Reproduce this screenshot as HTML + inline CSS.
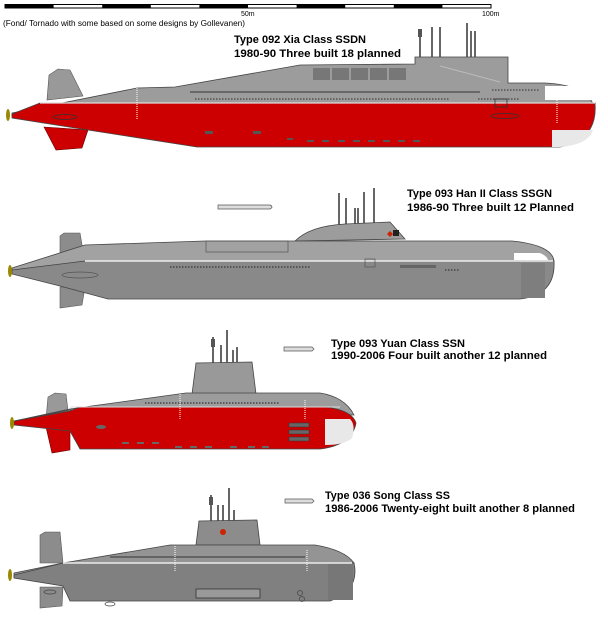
<!DOCTYPE html>
<html><head><meta charset="utf-8"><style>
html,body{margin:0;padding:0;background:#fff;}
svg{display:block;}
text{font-family:"Liberation Sans",sans-serif;fill:#000;}
.t{font-size:11px;font-weight:bold;}
</style></head><body>
<svg width="608" height="631" viewBox="0 0 608 631" xmlns="http://www.w3.org/2000/svg">
<!-- scale bar -->
<rect x="5" y="4.5" width="486" height="3.5" fill="#fff" stroke="#000" stroke-width="1"/>
<g fill="#000">
<rect x="5" y="4.5" width="48.6" height="3.5"/><rect x="102.2" y="4.5" width="48.6" height="3.5"/>
<rect x="199.4" y="4.5" width="48.6" height="3.5"/><rect x="296.6" y="4.5" width="48.6" height="3.5"/>
<rect x="393.8" y="4.5" width="48.6" height="3.5"/>
</g>
<text x="241" y="16" font-size="7">50m</text>
<text x="482" y="16" font-size="7">100m</text>
<text x="3" y="26" font-size="8" textLength="242" lengthAdjust="spacingAndGlyphs">(Fond/ Tornado with some based on some designs by Gollevanen)</text>

<!-- ===== SUB 1 XIA ===== -->
<text class="t" x="234" y="43" textLength="132" lengthAdjust="spacingAndGlyphs">Type 092 Xia Class SSDN</text>
<text class="t" x="234" y="57" textLength="167" lengthAdjust="spacingAndGlyphs">1980-90 Three built 18 planned</text>
<g stroke="#333" stroke-width="1.5">
<line x1="420" y1="30" x2="420" y2="57"/><line x1="432" y1="27" x2="432" y2="57"/><line x1="440" y1="27" x2="440" y2="57"/>
<line x1="467" y1="23" x2="467" y2="57"/><line x1="471" y1="31" x2="471" y2="57"/><line x1="475" y1="31" x2="475" y2="57"/>
</g>
<rect x="418" y="29" width="4" height="8" fill="#555"/>
<!-- fins -->
<path d="M47,100 L49,75 L58,69 L70,70 L83,96 Z" fill="#999" stroke="#555" stroke-width="0.6"/>
<path d="M44,127 L88,130 L82,148 L56,150 Z" fill="#cc0000" stroke="#600" stroke-width="0.6"/>
<!-- hull grey upper -->
<path d="M12,113 L137,88 L175,87 L300,65 L415,64 L415,57 L508,57 L508,83 L545,83 Q590,85 595,110 L595,103 L12,116 Z" fill="#9c9c9c" stroke="#444" stroke-width="0.8"/>
<!-- red lower -->
<path d="M12,114 L40,103 L595,103 Q598,140 560,147 L197,147 L88,130 L12,118 Z" fill="#cc0000" stroke="#444" stroke-width="0.8"/>
<line x1="40" y1="103" x2="595" y2="103" stroke="#ddd" stroke-width="1.2"/>
<path d="M545,86 L575,86 Q590,92 593,100 L545,100 Z" fill="#fff"/>
<path d="M552,130 L593,130 Q588,145 560,147 L552,147 Z" fill="#e8e8e8"/>
<line x1="190" y1="92" x2="480" y2="92" stroke="#333" stroke-width="1"/>
<line x1="440" y1="66" x2="500" y2="82" stroke="#bbb" stroke-width="1"/>
<g fill="#777"><rect x="313" y="68" width="17" height="12"/><rect x="332" y="68" width="17" height="12"/><rect x="351" y="68" width="17" height="12"/><rect x="370" y="68" width="17" height="12"/><rect x="389" y="68" width="17" height="12"/></g>
<g fill="none" stroke="#333" stroke-width="0.8">
<ellipse cx="65" cy="117" rx="12" ry="2.5"/><ellipse cx="505" cy="116" rx="14" ry="2.5"/>
<rect x="495" y="99" width="12" height="8"/>
</g>
<g fill="#555"><rect x="205" y="131" width="8" height="3"/><rect x="253" y="131" width="8" height="3"/><rect x="287" y="138" width="6" height="2"/>
<rect x="307" y="140" width="7" height="2"/><rect x="322" y="140" width="7" height="2"/><rect x="338" y="140" width="7" height="2"/><rect x="353" y="140" width="7" height="2"/><rect x="368" y="140" width="7" height="2"/><rect x="383" y="140" width="7" height="2"/><rect x="398" y="140" width="7" height="2"/><rect x="413" y="140" width="7" height="2"/></g>
<g stroke="#444" stroke-width="1.2" stroke-dasharray="1.5 1.5"><line x1="195" y1="99" x2="450" y2="99"/><line x1="478" y1="99" x2="520" y2="99"/><line x1="492" y1="90" x2="540" y2="90"/></g>
<g stroke="#fff" stroke-width="1" stroke-dasharray="1 1"><line x1="137" y1="88" x2="137" y2="120"/><line x1="557" y1="92" x2="557" y2="123"/></g>
<ellipse cx="8" cy="115" rx="2" ry="6" fill="#998800"/>

<!-- ===== SUB 2 HAN ===== -->
<text class="t" x="407" y="197" textLength="145" lengthAdjust="spacingAndGlyphs">Type 093 Han II Class SSGN</text>
<text class="t" x="407" y="211" textLength="167" lengthAdjust="spacingAndGlyphs">1986-90 Three built 12 Planned</text>
<path d="M218,205 L270,205 Q274,207 270,209 L218,209 Z" fill="#ddd" stroke="#555" stroke-width="0.7"/>
<g stroke="#333" stroke-width="1.5">
<line x1="339" y1="193" x2="339" y2="228"/><line x1="346" y1="198" x2="346" y2="228"/><line x1="355" y1="208" x2="355" y2="226"/><line x1="358" y1="208" x2="358" y2="226"/>
<line x1="364" y1="192" x2="364" y2="224"/><line x1="374" y1="188" x2="374" y2="224"/></g>
<path d="M60,262 L60,236 L64,233 L80,233 L85,262 Z" fill="#8c8c8c" stroke="#555" stroke-width="0.6"/>
<path d="M60,287 L85,287 L82,305 L60,308 Z" fill="#8c8c8c" stroke="#555" stroke-width="0.6"/>
<path d="M295,241 Q310,226 345,224 L390,222 L405,239 Z" fill="#9c9c9c" stroke="#444" stroke-width="0.8"/>
<path d="M12,268 L85,245 L205,241 L512,241 Q552,245 554,261 L12,272 Z" fill="#a2a2a2" stroke="#444" stroke-width="0.8"/>
<path d="M12,270 L85,261 L554,261 Q556,295 520,299 L108,299 L60,286 L12,274 Z" fill="#898989" stroke="#444" stroke-width="0.8"/>
<line x1="85" y1="261" x2="553" y2="261" stroke="#fff" stroke-width="1.2"/>
<path d="M514,253 L540,253 Q547,256 548,260 L514,260 Z" fill="#fff"/>
<rect x="521" y="263" width="24" height="35" fill="#7e7e7e"/>
<g fill="none" stroke="#555" stroke-width="0.7"><rect x="206" y="241" width="82" height="11"/><rect x="365" y="259" width="10" height="8"/><ellipse cx="80" cy="275" rx="18" ry="3"/></g>
<rect x="400" y="265" width="36" height="3" fill="#666"/>
<g stroke="#444" stroke-width="1.4" stroke-dasharray="1.5 1.5"><line x1="170" y1="267" x2="310" y2="267"/><line x1="445" y1="270" x2="460" y2="270"/></g>
<polygon points="390,231 393,234 390,237 387,234" fill="#cc2200"/>
<rect x="393" y="230" width="6" height="6" fill="#222"/>
<ellipse cx="10" cy="271" rx="2" ry="6" fill="#998800"/>

<!-- ===== SUB 3 YUAN ===== -->
<text class="t" x="331" y="347" textLength="134" lengthAdjust="spacingAndGlyphs">Type 093 Yuan Class SSN</text>
<text class="t" x="331" y="359" textLength="216" lengthAdjust="spacingAndGlyphs">1990-2006 Four built another 12 planned</text>
<path d="M284,347 L312,347 L314,349 L312,351 L284,351 Z" fill="#ddd" stroke="#555" stroke-width="0.7"/>
<g stroke="#333" stroke-width="1.5"><line x1="213" y1="337" x2="213" y2="364"/><line x1="221" y1="345" x2="221" y2="364"/><line x1="227" y1="330" x2="227" y2="364"/><line x1="233" y1="350" x2="233" y2="364"/><line x1="237" y1="347" x2="237" y2="364"/></g>
<rect x="211" y="339" width="4" height="8" fill="#555"/>
<path d="M192,394 L196,363 L252,362 L256,394 Z" fill="#999" stroke="#444" stroke-width="0.8"/>
<path d="M46,419 L48,397 L55,393 L66,394 L69,419 Z" fill="#999" stroke="#555" stroke-width="0.6"/>
<path d="M46,427 L70,427 L70,450 L52,453 Z" fill="#cc0000" stroke="#600" stroke-width="0.6"/>
<path d="M14,421 L70,409 L186,393 L320,393 Q345,397 354,415 L70,410 Z" fill="#9c9c9c" stroke="#444" stroke-width="0.8"/>
<path d="M14,421 L70,411 L80,407 L325,407 Q352,410 356,423 Q352,445 320,449 L80,449 L70,431 L14,425 Z" fill="#cc0000" stroke="#444" stroke-width="0.8"/>
<line x1="70" y1="407" x2="340" y2="407" stroke="#ddd" stroke-width="1"/>
<path d="M325,419 L350,419 Q356,425 352,438 Q345,445 325,445 Z" fill="#e8e8e8"/>
<g fill="#666" stroke="#333" stroke-width="0.5"><rect x="289" y="423" width="20" height="4"/><rect x="289" y="430" width="20" height="4"/><rect x="289" y="437" width="20" height="4"/></g>
<g stroke="#444" stroke-width="1.4" stroke-dasharray="1.5 1.5"><line x1="145" y1="403" x2="280" y2="403"/></g>
<g stroke="#fff" stroke-width="1" stroke-dasharray="1 1"><line x1="180" y1="394" x2="180" y2="420"/><line x1="305" y1="400" x2="305" y2="420"/></g>
<g fill="#666"><ellipse cx="101" cy="427" rx="5" ry="2"/><rect x="122" y="442" width="7" height="2"/><rect x="137" y="442" width="7" height="2"/><rect x="152" y="442" width="7" height="2"/><rect x="175" y="446" width="7" height="2"/><rect x="190" y="446" width="7" height="2"/><rect x="205" y="446" width="7" height="2"/><rect x="230" y="446" width="7" height="2"/><rect x="248" y="446" width="7" height="2"/><rect x="262" y="446" width="7" height="2"/></g>
<ellipse cx="12" cy="423" rx="2" ry="6" fill="#998800"/>

<!-- ===== SUB 4 SONG ===== -->
<text class="t" x="325" y="499" textLength="125" lengthAdjust="spacingAndGlyphs">Type 036 Song Class SS</text>
<text class="t" x="325" y="512" textLength="250" lengthAdjust="spacingAndGlyphs">1986-2006 Twenty-eight built another 8 planned</text>
<path d="M285,499 L312,499 L314,501 L312,503 L285,503 Z" fill="#ddd" stroke="#555" stroke-width="0.7"/>
<g stroke="#333" stroke-width="1.5"><line x1="211" y1="495" x2="211" y2="521"/><line x1="218" y1="505" x2="218" y2="521"/><line x1="223" y1="505" x2="223" y2="521"/><line x1="229" y1="488" x2="229" y2="521"/><line x1="234" y1="510" x2="234" y2="521"/></g>
<rect x="209" y="497" width="4" height="8" fill="#555"/>
<path d="M196,545 L199,521 L257,520 L260,545 Z" fill="#8c8c8c" stroke="#444" stroke-width="0.8"/>
<circle cx="223" cy="532" r="3" fill="#cc2200"/>
<path d="M40,563 L40,535 L45,532 L60,532 L63,563 Z" fill="#8c8c8c" stroke="#555" stroke-width="0.6"/>
<path d="M40,587 L63,587 L62,606 L40,608 Z" fill="#8c8c8c" stroke="#555" stroke-width="0.6"/>
<path d="M14,573 L63,563 L170,545 L315,545 Q345,550 354,563 L14,577 Z" fill="#949494" stroke="#444" stroke-width="0.8"/>
<path d="M14,575 L63,563 L354,563 Q360,590 330,601 L70,601 L63,586 L14,578 Z" fill="#808080" stroke="#444" stroke-width="0.8"/>
<line x1="63" y1="563" x2="352" y2="563" stroke="#fff" stroke-width="1.2"/>
<rect x="328" y="564" width="25" height="36" fill="#777"/>
<line x1="110" y1="557" x2="305" y2="557" stroke="#333" stroke-width="1"/>
<rect x="196" y="589" width="64" height="9" fill="#999" stroke="#333" stroke-width="0.8"/>
<g stroke="#fff" stroke-width="1" stroke-dasharray="1 1"><line x1="175" y1="546" x2="175" y2="572"/><line x1="307" y1="550" x2="307" y2="572"/></g>
<g fill="none" stroke="#444" stroke-width="0.7"><ellipse cx="110" cy="606" rx="1" ry="0"/><ellipse cx="110" cy="604" rx="5" ry="2"/><ellipse cx="50" cy="592" rx="6" ry="2"/><circle cx="300" cy="593" r="2.5"/><circle cx="302" cy="599" r="2.5"/></g>
<ellipse cx="10" cy="575" rx="2" ry="6" fill="#998800"/>
</svg>
</body></html>
